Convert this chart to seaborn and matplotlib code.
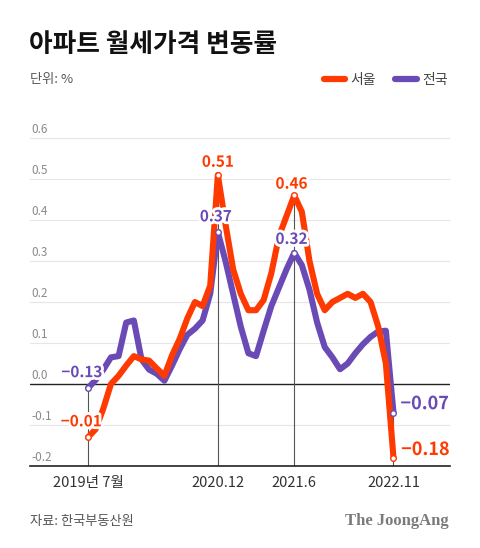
import numpy as np
import pandas as pd
import matplotlib
matplotlib.use("Agg")
import matplotlib.pyplot as plt
import matplotlib.patheffects as pe
from matplotlib.lines import Line2D
import seaborn as sns

# -----------------------------
# Data (monthly, 2019.7 ~ 2022.11)
# -----------------------------
seoul = [-0.13, -0.11, -0.06, 0.00, 0.02, 0.045, 0.068, 0.06, 0.057, 0.038,
         0.02, 0.07, 0.11, 0.16, 0.20, 0.19, 0.24, 0.51, 0.39, 0.28,
         0.22, 0.18, 0.18, 0.205, 0.27, 0.36, 0.41, 0.46, 0.42, 0.30,
         0.22, 0.18, 0.20, 0.21, 0.22, 0.21, 0.22, 0.20, 0.14, 0.05,
         -0.18]
national = [-0.01, 0.01, 0.035, 0.065, 0.068, 0.15, 0.155, 0.06, 0.035, 0.025,
            0.008, 0.045, 0.085, 0.12, 0.135, 0.155, 0.22, 0.37, 0.30, 0.22,
            0.14, 0.075, 0.068, 0.13, 0.19, 0.235, 0.28, 0.32, 0.29, 0.23,
            0.15, 0.09, 0.065, 0.036, 0.05, 0.075, 0.097, 0.115, 0.128, 0.13,
            -0.07]
series_names = ["서울", "전국"]
colors = ["#ff3a00", "#6a4bb6"]

tick_idx = [0, 17, 27, 40]
tick_labels = ["2019년 7월", "2020.12", "2021.6", "2022.11"]
y_ticks = [-0.2, -0.1, 0.0, 0.1, 0.2, 0.3, 0.4, 0.5, 0.6]
y_tick_labels = ["-0.2", "-0.1", "0.0", "0.1", "0.2", "0.3", "0.4", "0.5", "0.6"]

# labels as printed on the chart: (series, index, text)
value_labels = [
    ("서울", 0, "\u22120.01"), ("전국", 0, "\u22120.13"),
    ("서울", 17, "0.51"), ("전국", 17, "0.37"),
    ("서울", 27, "0.46"), ("전국", 27, "0.32"),
    ("서울", 40, "\u22120.18"), ("전국", 40, "\u22120.07"),
]

df = pd.DataFrame({
    "idx": list(range(len(seoul))) * 2,
    "value": seoul + national,
    "region": ["서울"] * len(seoul) + ["전국"] * len(national),
})

# -----------------------------
# Style
# -----------------------------
sns.set_style("white")
plt.rcParams["font.family"] = ["Noto Sans CJK KR", "DejaVu Sans"]
plt.rcParams["axes.unicode_minus"] = False

fig = plt.figure(figsize=(4.8, 5.48), dpi=100)
ax = fig.add_axes([30 / 480, 82 / 548, 420 / 480, 337 / 548])

xmin, xmax = -7.6, 47.4
ymin, ymax = -0.2, 0.622
ax.set_xlim(xmin, xmax)
ax.set_ylim(ymin, ymax)

# grid lines + zero line
for v in y_ticks[1:]:
    if v == 0.0:
        ax.axhline(v, color="#222222", lw=1.0, zorder=1)
    else:
        ax.axhline(v, color="#e6e6e6", lw=0.8, zorder=0)

# y labels sitting above the grid lines
for v, lab in zip(y_ticks, y_tick_labels):
    ax.annotate(lab, xy=(0.003, v), xycoords=("axes fraction", "data"),
                xytext=(0, 1.5), textcoords="offset points",
                ha="left", va="bottom", fontsize=8.5, color="#8a8a8a")

# vertical guides at labelled months
vals = {"서울": seoul, "전국": national}
for i in tick_idx:
    top = max(seoul[i], national[i])
    ax.vlines(i, ymin, top, color="#555555", lw=0.8, zorder=1)

sns.lineplot(data=df, x="idx", y="value", hue="region", palette=colors,
             hue_order=series_names, linewidth=4.4, legend=False, ax=ax)
# Seoul line drawn above the national line
red_line, purple_line = ax.lines[-2], ax.lines[-1]
red_line.set_zorder(4)
purple_line.set_zorder(3)

# markers and value labels
offsets = {
    ("서울", 0): ((-5, 11.5), "center"), ("전국", 0): ((-4.5, 11.5), "center"),
    ("서울", 17): ((0, 9.5), "center"), ("전국", 17): ((-1.5, 11.5), "center"),
    ("서울", 27): ((-2, 8.5), "center"), ("전국", 27): ((-2, 10), "center"),
    ("서울", 40): ((5.5, 6), "left"), ("전국", 40): ((5, 6.5), "left"),
}
for name, i, txt in value_labels:
    c = colors[series_names.index(name)]
    y = vals[name][i]
    ax.scatter([i], [y], s=16, facecolor="white", edgecolor=c, linewidth=1.0,
               zorder=5)
    (dx, dy), ha = offsets[(name, i)]
    big = i == 40
    ax.annotate(txt, xy=(i, y), xytext=(dx, dy), textcoords="offset points",
                ha=ha, va="center", fontsize=13 if big else 11,
                fontweight="bold", color=c, zorder=6,
                path_effects=[pe.withStroke(linewidth=4, foreground="white")])

# x axis
ax.set_xticks(tick_idx)
ax.set_xticklabels(tick_labels, fontsize=10.5, color="#333333")
ax.set_xticks(range(len(seoul)), minor=True)
ax.tick_params(axis="x", which="major", length=0, pad=7)
ax.tick_params(axis="x", which="minor", direction="in", length=4,
               width=0.7, color="#777777")
ax.set_yticks([])
ax.set_xlabel("")
ax.set_ylabel("")
for s in ["top", "right", "left"]:
    ax.spines[s].set_visible(False)
ax.spines["bottom"].set_color("#222222")
ax.spines["bottom"].set_linewidth(1.2)

# -----------------------------
# Titles, legend, footer
# -----------------------------
def fy(py):
    return 1 - py / 548

fig.text(29 / 480, fy(45), "아파트 월세가격 변동률", fontsize=18.5,
         fontweight="bold", color="#111111", va="center", ha="left")
fig.text(30 / 480, fy(80), "단위: %", fontsize=9.5, color="#555555",
         va="center", ha="left")

for (x0, x1, tx), name, c in zip([(324, 345, 350), (395, 417, 422)],
                                 series_names, colors):
    fig.add_artist(Line2D([x0 / 480, x1 / 480], [fy(79), fy(79)], color=c,
                          lw=4.5, solid_capstyle="round",
                          transform=fig.transFigure))
    fig.text(tx / 480, fy(80), name, fontsize=10, color="#444444",
             va="center", ha="left")

fig.text(30 / 480, fy(522), "자료: 한국부동산원", fontsize=9.5,
         color="#555555", va="center", ha="left")
fig.text(449 / 480, fy(521), "The JoongAng", fontsize=12, fontweight="bold",
         family="Liberation Serif", color="#7a7a7a", va="center", ha="right")

fig.savefig("out.png", dpi=100)
